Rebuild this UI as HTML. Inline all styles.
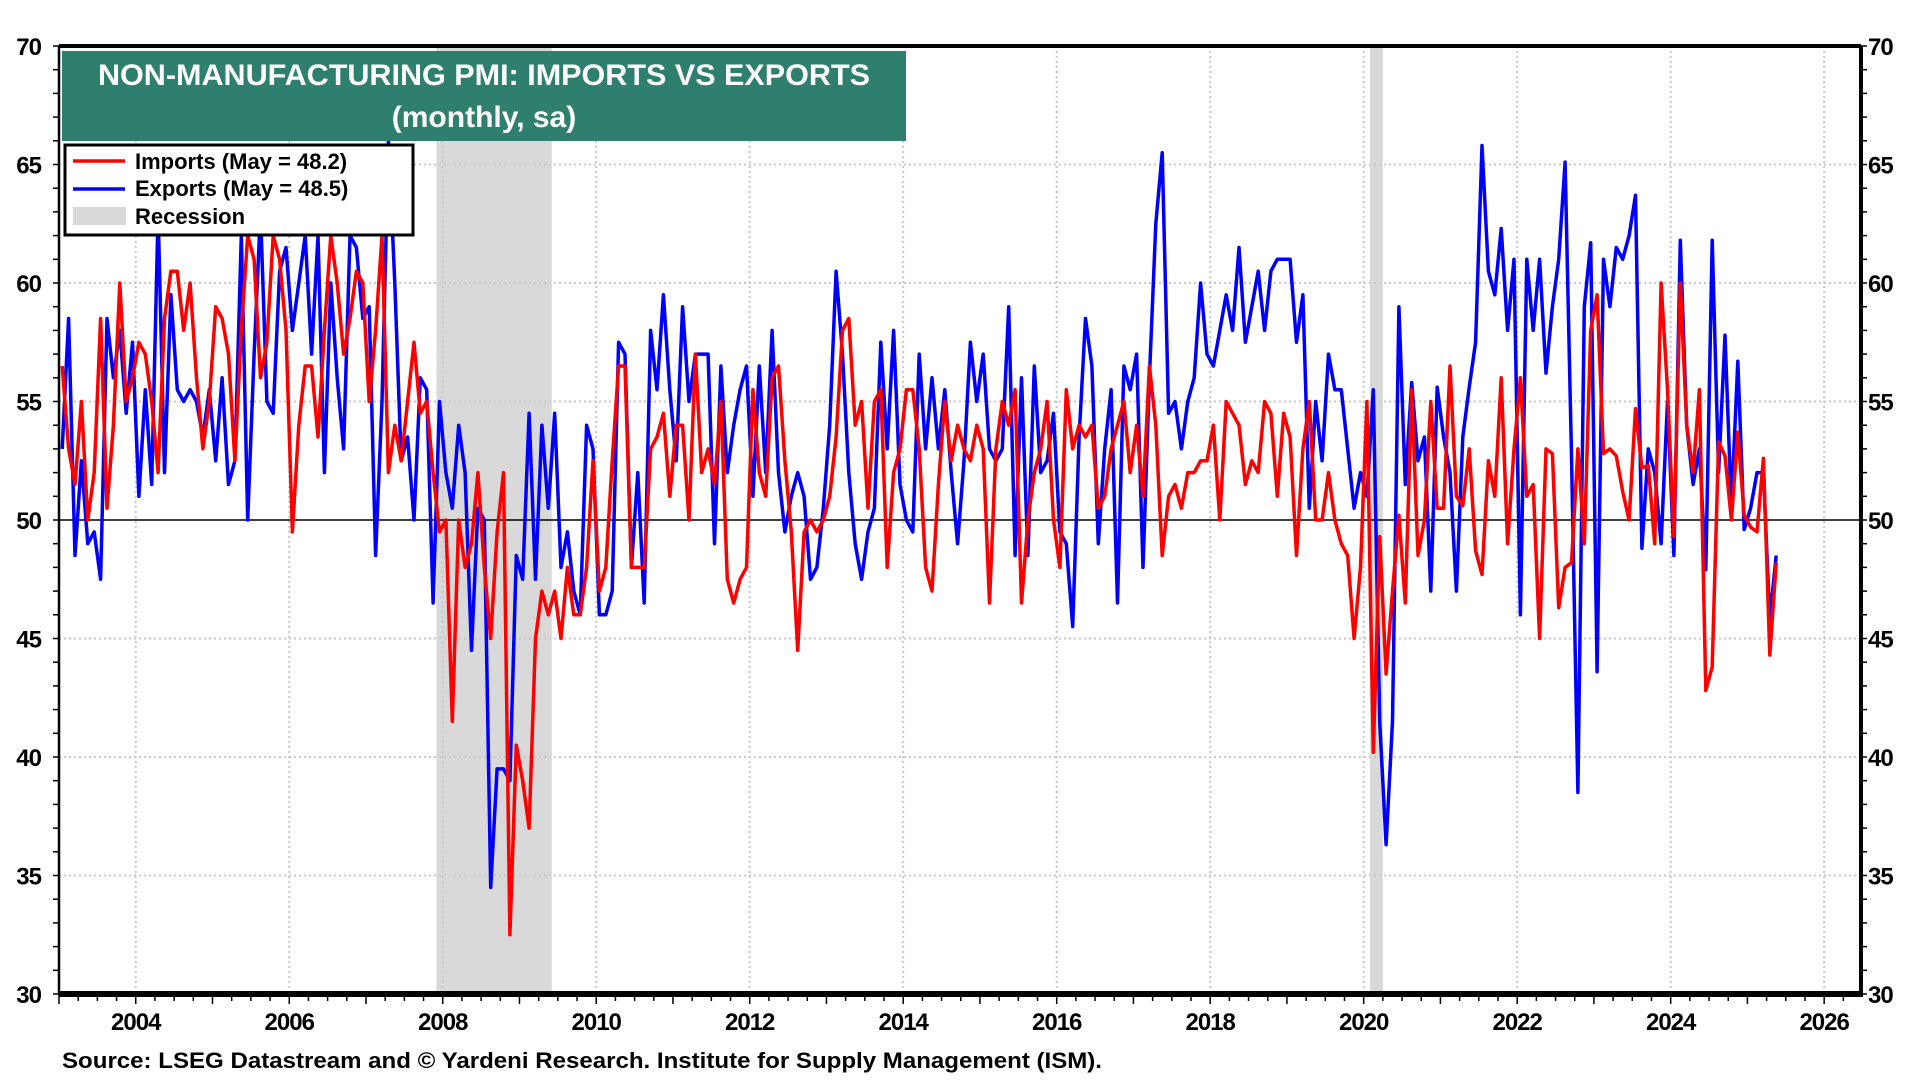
<!DOCTYPE html>
<html><head><meta charset="utf-8"><style>
html,body{margin:0;padding:0;background:#fff;}
svg{display:block;font-family:"Liberation Sans",Arial,sans-serif;}
</style></head><body>
<svg id="chart" width="1920" height="1080" viewBox="0 0 1920 1080" xmlns="http://www.w3.org/2000/svg">
<rect x="0" y="0" width="1920" height="1080" fill="#fff"/>
<g id="recess"></g><g id="grid"></g><g id="series"></g><g id="axes"></g>
<g>
<rect x="62" y="51" width="844" height="90" fill="#2f7f6f"/>
<text x="484" y="85" text-anchor="middle" fill="#fff" font-weight="bold" font-size="30" textLength="772" lengthAdjust="spacingAndGlyphs">NON-MANUFACTURING PMI: IMPORTS VS EXPORTS</text>
<text x="484" y="127" text-anchor="middle" fill="#fff" font-weight="bold" font-size="30">(monthly, sa)</text>
</g>
<g>
<rect x="65" y="145" width="348" height="90" fill="#fff" stroke="#000" stroke-width="3"/>
<g><line x1="73" y1="161" x2="125" y2="161" stroke="#f00" stroke-width="3.5"/><text x="135" y="169" font-size="22" font-weight="bold">Imports (May = 48.2)</text></g>
<g><line x1="73" y1="189" x2="125" y2="189" stroke="#00f" stroke-width="3.5"/><text x="135" y="196" font-size="22" font-weight="bold">Exports (May = 48.5)</text></g>
<g><rect x="73" y="207" width="53" height="18" fill="#d9d9d9"/><text x="135" y="224" font-size="22" font-weight="bold">Recession</text></g>
</g>
<text x="62" y="1068" font-size="22" font-weight="bold" textLength="1040" lengthAdjust="spacingAndGlyphs">Source: LSEG Datastream and © Yardeni Research. Institute for Supply Management (ISM).</text>
</svg>
<script>
const startYear = 2003;
const imports = [
56.5,53,51.5,55,50,52,58.5,50.5,54,60,55,56,
57.5,57,55,52,58.5,60.5,60.5,58,60,56,53,55,
59,58.5,57,52.5,58,62,61,56,57.5,62,61,58,
49.5,54,56.5,56.5,53.5,58,62,60,57,58.5,60.5,60,
55,58,62,52,54,52.5,55,57.5,54.5,55,52,49.5,
50,41.5,50,48,49,52,48,45,49.5,52,32.5,40.5,
39,37,45,47,46,47,45,48,46,46,48,52.5,
47,48,52.5,56.5,56.5,48,48,48,53,53.5,54.5,51,
54,54,50,57,52,53,51.5,55,47.5,46.5,47.5,48,
55.5,52,51,56,56.5,52.5,49.5,44.5,49.5,50,49.5,50,
51,53.5,58,58.5,54,55,50.5,55,55.5,48,52,53,
55.5,55.5,53,48,47,51.5,55,52.5,54,53,52.5,54,
53,46.5,53,55,54,55.5,46.5,50,52,53,55,50,
48,55.5,53,54,53.5,54,50.5,51,53,54,55,52,
54,51,56.5,54,48.5,51,51.5,50.5,52,52,52.5,52.5,
54,50,55,54.5,54,51.5,52.5,52,55,54.5,51,54.5,
53.5,48.5,53,55,50,50,52,50,49,48.5,45,48,
55,40.2,49.3,43.5,47,50.2,46.5,55.5,48.5,50,55,50.5,
50.5,56.5,51,50.6,53,48.7,47.7,52.5,51,56,49,53,
56,51,51.5,45,53,52.8,46.3,48,48.2,53,49,58,
59.5,52.8,53,52.7,51.2,50,54.7,52.2,52.3,49,60,55.5,
49.3,60,54,52,55.5,42.8,43.8,53.3,52.7,50,53.7,50.2,
49.7,49.5,52.6,44.3,48.2];
const exportsPmi = [
53,58.5,48.5,52.5,49,49.5,47.5,58.5,56,58,54.5,57.5,
51,55.5,51.5,63,52,59.5,55.5,55,55.5,55,53.5,55.5,
52.5,56,51.5,52.5,62,50,57,63,55,54.5,60.5,61.5,
58,60,62,57,62,52,60,56,53,62,61.5,58.5,
59,48.5,55,66,60,52.5,53.5,50,56,55.5,46.5,55,
52,50.5,54,52,44.5,50.5,50,34.5,39.5,39.5,39,48.5,
47.5,54.5,47.5,54,50.5,54.5,48,49.5,47,46,54,53,
46,46,47,57.5,57,48,52,46.5,58,55.5,59.5,55.5,
52.5,59,55,57,57,57,49,56.5,52,54,55.5,56.5,
51,56.5,52,58,52,49.5,51,52,51,47.5,48,50.5,
54,60.5,57,52,49,47.5,49.5,50.5,57.5,53,58,51.5,
50,49.5,57,53,56,53,55.5,52,49,52.5,57.5,55,
57,53,52.5,53,59,48.5,56,48.5,56.5,52,52.5,54.5,
49.5,49,45.5,53.5,58.5,56.5,49,53,55.5,46.5,56.5,55.5,
57,48,56,62.5,65.5,54.5,55,53,55,56,60,57,
56.5,58,59.5,58,61.5,57.5,59,60.5,58,60.5,61,61,
61,57.5,59.5,50.5,55,52.5,57,55.5,55.5,53,50.5,52,
51,55.5,41.5,36.3,41.5,59,51.5,55.8,52.5,53.5,47,55.6,
53.5,52,47,53.5,55.6,57.5,65.8,60.5,59.5,62.3,58,61,
46,61,58,61,56.2,59,61,65.1,52.7,38.5,59,61.7,
43.6,61,59,61.5,61,62,63.7,48.8,53,52,49,55,
48.5,61.8,54,51.5,53,47.9,61.8,52,57.8,50.5,56.7,49.6,
50.5,52,52,45.8,48.5];
const recessions = [[2007.917, 2009.42],[2020.08, 2020.25]];
const yTicks = [30,35,40,45,50,55,60,65,70];
const xTicks = [2004,2006,2008,2010,2012,2014,2016,2018,2020,2022,2024,2026];

const L=59,R=1861,T=46,B=994, X0=2003.0, X1=2026.48;
const xs = t => L + (t - X0)/(X1 - X0)*(R-L);
const ys = v => B - (v - 30)/40*(B-T);
const NS="http://www.w3.org/2000/svg";
function mk(tag, attrs, parent){const e=document.createElementNS(NS,tag);for(const k in attrs)e.setAttribute(k,attrs[k]);parent.appendChild(e);return e;}
const gR=document.getElementById('recess'),gG=document.getElementById('grid'),gS=document.getElementById('series'),gA=document.getElementById('axes');
recessions.forEach(r=>{
  const e=mk('rect',{x:xs(r[0]),y:T,width:xs(r[1])-xs(r[0]),height:B-T,fill:'#d9d9d9'},gR);
  
  
});
yTicks.forEach(v=>{
  if(v>30&&v<70&&v!==50){const e=mk('line',{x1:L,x2:R,y1:ys(v),y2:ys(v),stroke:'#c8c8c8','stroke-width':2,'stroke-dasharray':'2,3'},gG);
  
  }
  const a=mk('text',{x:41,y:ys(v)+9,'text-anchor':'end','font-size':24,'font-weight':'bold','letter-spacing':-1},gA);a.textContent=v;
  
  
  const b=mk('text',{x:1868,y:ys(v)+9,'font-size':24,'font-weight':'bold','letter-spacing':-1},gA);b.textContent=v;
  
  
});
for(let v=30;v<=70;v++){
  mk('line',{x1:L-6,x2:L,y1:ys(v),y2:ys(v),stroke:'#000','stroke-width':1.5},gA);
  mk('line',{x1:R,x2:R+6,y1:ys(v),y2:ys(v),stroke:'#000','stroke-width':1.5},gA);
}
xTicks.forEach(y=>{
  const e=mk('line',{x1:xs(y),x2:xs(y),y1:T,y2:B,stroke:'#c8c8c8','stroke-width':2,'stroke-dasharray':'2,3'},gG);
  
  
  const t=mk('text',{x:xs(y),y:1030,'text-anchor':'middle','font-size':24,'font-weight':'bold','letter-spacing':-1},gA);t.textContent=y;
  
  
});
for(let q=X0*4;q<=X1*4;q++){const t=q/4;mk('line',{x1:xs(t),x2:xs(t),y1:B,y2:B+(t%1===0?10:7),stroke:'#000','stroke-width':1.5},gA);}
const zl=mk('line',{x1:L,x2:R,y1:ys(50),y2:ys(50),stroke:'#000','stroke-width':1.5},gG);


function series(arr,color,name){
  const d=arr.map((v,i)=>(i?'L':'M')+xs(startYear+(i+0.5)/12).toFixed(1)+','+ys(v).toFixed(1)).join('');
  const p=mk('path',{d:d,fill:'none',stroke:color,'stroke-width':3.5,'stroke-linejoin':'round'},gS);
  
  
}
series(exportsPmi,'#0000ff','exports-line');
series(imports,'#ff0000','imports-line');
mk('line',{x1:L,x2:R,y1:T,y2:T,stroke:'#000','stroke-width':4},gA);
mk('line',{x1:L,x2:R+2,y1:B,y2:B,stroke:'#000','stroke-width':6},gA);
mk('line',{x1:L,x2:L,y1:T,y2:B,stroke:'#000','stroke-width':2.5},gA);
mk('line',{x1:R,x2:R,y1:T,y2:B,stroke:'#000','stroke-width':4},gA);
</script>
</body></html>
